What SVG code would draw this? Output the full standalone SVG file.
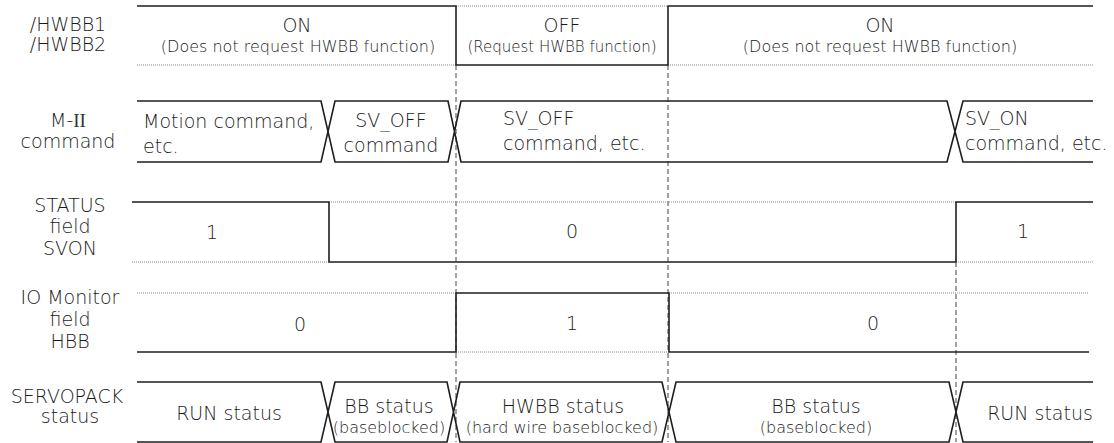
<svg xmlns="http://www.w3.org/2000/svg" width="1114" height="443" viewBox="0 0 1114 443">
<style>
text{font-family:"DejaVu Sans","Liberation Sans",sans-serif;font-weight:300;fill:#1a1a1a;font-size:19px}
.c{text-anchor:middle}
.s{font-size:16px}
.s15{font-size:15px}
.w{fill:none;stroke:#1e1e1e;stroke-width:1.6}
.d{fill:none;stroke:#8a8a8a;stroke-width:1;stroke-dasharray:1 1}
.v{fill:none;stroke:#444;stroke-width:1;stroke-dasharray:5 3}
.rn{font-family:"Liberation Serif",serif;font-weight:400;fill:#333}
</style>
<rect width="1114" height="443" fill="#fff"/>
<g id="labels">
<text class="c" x="68" y="31">/HWBB1</text>
<text class="c" x="68" y="51">/HWBB2</text>
<text class="c" x="68" y="127">M-<tspan class="rn">II</tspan></text>
<text class="c" x="68" y="148">command</text>
<text class="c" x="70" y="212">STATUS</text>
<text class="c" x="70" y="233">field</text>
<text class="c" x="70" y="255">SVON</text>
<text class="c" x="70" y="304">IO Monitor</text>
<text class="c" x="70" y="326">field</text>
<text class="c" x="70" y="348">HBB</text>
<text class="c" x="67" y="403">SERVOPACK</text>
<text class="c" x="70" y="423">status</text>
</g>
<g id="connectors">
<path class="v" d="M456,65 V442"/>
<path class="v" d="M668,65 V442"/>
<path class="v" d="M956,262 V442"/>
</g>
<g id="hwbb">
<path class="d" d="M137,65 H456 M456,6 H668 M668,65 H1093"/>
<path class="w" d="M137,6 H456 V65 H668 V6 H1093"/>
<text class="c" x="297" y="32">ON</text>
<text class="c s" x="298" y="52">(Does not request HWBB function)</text>
<text class="c" x="562" y="32">OFF</text>
<text class="c s15" x="562" y="52">(Request HWBB function)</text>
<text class="c" x="880" y="32">ON</text>
<text class="c s" x="880" y="52">(Does not request HWBB function)</text>
</g>
<g id="m2command">
<path class="w" d="M137,101 H321 L335,162 H448 L461,101 H947 L963,162 H1093 M137,162 H321 L335,101 H448 L461,162 H947 L963,101 H1093"/>
<text x="143" y="128">Motion command,</text>
<text x="143" y="153">etc.</text>
<text class="c" x="391" y="127">SV_OFF</text>
<text class="c" x="391" y="152">command</text>
<text x="503" y="125">SV_OFF</text>
<text x="503" y="150">command, etc.</text>
<text x="965" y="125">SV_ON</text>
<text x="965" y="150">command, etc.</text>
</g>
<g id="svon">
<path class="d" d="M132,262 H329 M329,202 H956 M956,262 H1093"/>
<path class="w" d="M132,202 H329 V262 H956 V202 H1093"/>
<text class="c" x="212" y="239">1</text>
<text class="c" x="572" y="238">0</text>
<text class="c" x="1023" y="238">1</text>
</g>
<g id="hbb">
<path class="d" d="M137,293 H456 M456,352 H669 M669,293 H1089"/>
<path class="w" d="M137,352 H456 V293 H669 V352 H1089"/>
<text class="c" x="300" y="331">0</text>
<text class="c" x="572" y="330">1</text>
<text class="c" x="873" y="330">0</text>
</g>
<g id="servopack">
<path class="w" d="M137,382 H321 L335,442 H447 L460,382 H662 L676,442 H949 L963,382 H1093 M137,442 H321 L335,382 H447 L460,442 H662 L676,382 H949 L963,442 H1093"/>
<text class="c" x="229" y="420">RUN status</text>
<text class="c" x="389" y="413">BB status</text>
<text class="c s" x="389" y="433">(baseblocked)</text>
<text class="c" x="563" y="413">HWBB status</text>
<text class="c s" x="562" y="433">(hard wire baseblocked)</text>
<text class="c" x="816" y="413">BB status</text>
<text class="c s" x="816" y="433">(baseblocked)</text>
<text class="c" x="1040" y="420">RUN status</text>
</g>
</svg>
